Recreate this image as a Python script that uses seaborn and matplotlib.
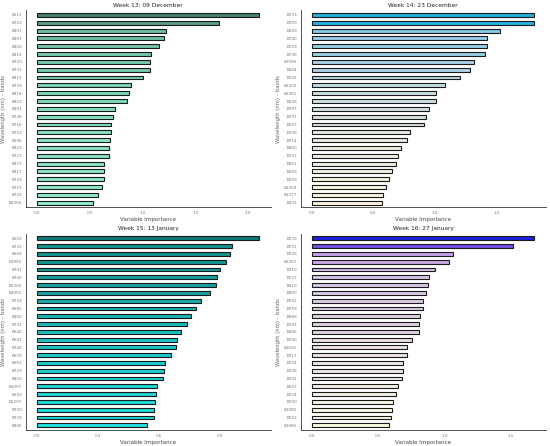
import numpy as np
import matplotlib
matplotlib.use('Agg')
import matplotlib.pyplot as plt
import matplotlib.colors as mcolors
from matplotlib.ticker import MultipleLocator, FormatStrFormatter
import seaborn as sns

# Data: band names (top to bottom) and variable importance per week
titles = ['Week 13: 09 December', 'Week 14: 23 December',
          'Week 15: 13 January', 'Week 16: 27 January']

bands_w13 = ['B515', 'B722', 'B401', 'B497', 'B400', 'B410', 'B720', 'B737', 'B413',
             'B739', 'B418', 'B422', 'B491', 'B738', 'B716', 'B723', 'B506', 'B423',
             'B727', 'B473', 'B417', 'B733', 'B719', 'B732', 'B2304']
imp_w13 = [2.107, 1.72, 1.218, 1.199, 1.151, 1.082, 1.066, 1.066, 1.003,
           0.89, 0.871, 0.852, 0.741, 0.719, 0.703, 0.703, 0.688, 0.678,
           0.678, 0.637, 0.634, 0.631, 0.615, 0.58, 0.533]

bands_w14 = ['B733', 'B709', 'B509', 'B740', 'B729', 'B736', 'B1996', 'B444', 'B742',
             'B2500', 'B2301', 'B526', 'B707', 'B731', 'B507', 'B726', 'B714', 'B400',
             'B737', 'B451', 'B505', 'B739', 'B2269', 'B1377', 'B433']
imp_w14 = [1.81, 1.805, 1.528, 1.425, 1.423, 1.409, 1.32, 1.282, 1.203,
           1.084, 1.011, 1.005, 0.951, 0.924, 0.911, 0.8, 0.775, 0.724,
           0.696, 0.683, 0.65, 0.623, 0.604, 0.577, 0.566]

bands_w15 = ['B502', 'B732', 'B664', 'B1995', 'B741', 'B740', 'B2302', 'B1951', 'B733',
             'B685', 'B400', 'B731', 'B640', 'B641', 'B742', 'B670', 'B661', 'B729',
             'B420', 'B1097', 'B550', 'B2297', 'B720', 'B728', 'B406']
imp_w15 = [1.093, 0.957, 0.946, 0.93, 0.9, 0.884, 0.877, 0.851, 0.804,
           0.781, 0.756, 0.737, 0.709, 0.687, 0.681, 0.656, 0.627, 0.622,
           0.619, 0.592, 0.584, 0.578, 0.573, 0.573, 0.54]

bands_w16 = ['B739', 'B721', 'B725', 'B2267', 'B710', 'B727', 'B510', 'B400', 'B742',
             'B759', 'B666', 'B743', 'B440', 'B740', 'B1692', 'B717', 'B754', 'B726',
             'B741', 'B507', 'B724', 'B730', 'B1085', 'B722', 'B1086']
imp_w16 = [1.676, 1.513, 1.064, 1.034, 0.923, 0.883, 0.873, 0.856, 0.838,
           0.836, 0.813, 0.808, 0.806, 0.75, 0.715, 0.713, 0.685, 0.683,
           0.675, 0.647, 0.635, 0.607, 0.6, 0.592, 0.577]

# low / high colours of each gradient
low_cols = ['aquamarine', 'cornsilk', 'cyan', 'lightyellow']
high_cols = ['#3f8a6e', 'deepskyblue', '#008B8B', 'blue']
tick_steps = [0.5, 0.5, 0.3, 0.5]


# gradient in CIELAB space, like ggplot's scale_fill_gradient
def to_lab(c):
    rgb = np.array(mcolors.to_rgb(c))
    lin = np.where(rgb <= 0.04045, rgb / 12.92, ((rgb + 0.055) / 1.055) ** 2.4)
    m = np.array([[0.4124, 0.3576, 0.1805], [0.2126, 0.7152, 0.0722], [0.0193, 0.1192, 0.9505]])
    xyz = m @ lin / np.array([0.95047, 1.0, 1.08883])
    f = np.where(xyz > 0.008856, np.cbrt(xyz), 7.787 * xyz + 16 / 116)
    return np.array([116 * f[1] - 16, 500 * (f[0] - f[1]), 200 * (f[1] - f[2])])


def from_lab(lab):
    fy = (lab[0] + 16) / 116
    f = np.array([fy + lab[1] / 500, fy, fy - lab[2] / 200])
    xyz = np.where(f ** 3 > 0.008856, f ** 3, (f - 16 / 116) / 7.787) * np.array([0.95047, 1.0, 1.08883])
    m = np.array([[3.2406, -1.5372, -0.4986], [-0.9689, 1.8758, 0.0415], [0.0557, -0.2040, 1.0570]])
    lin = m @ xyz
    rgb = np.where(lin <= 0.0031308, 12.92 * lin, 1.055 * np.abs(lin) ** (1 / 2.4) - 0.055)
    return tuple(np.clip(rgb, 0, 1))


def gradient(vals, low, high):
    vals = np.array(vals)
    t = (vals - vals.min()) / (vals.max() - vals.min())
    a, b = to_lab(low), to_lab(high)
    return [from_lab(a + (b - a) * ti) for ti in t]


sns.set_style('white')
plt.rcParams['font.family'] = ['DejaVu Sans']

fig = plt.figure(figsize=(5.5, 4.46), dpi=100)
positions = [[0.047, 0.535, 0.445, 0.442], [0.547, 0.535, 0.445, 0.442],
             [0.047, 0.036, 0.445, 0.440], [0.547, 0.036, 0.445, 0.440]]

all_bands = [bands_w13, bands_w14, bands_w15, bands_w16]
all_imp = [imp_w13, imp_w14, imp_w15, imp_w16]

for i in range(4):
    ax = fig.add_axes(positions[i])
    bands, imp = all_bands[i], all_imp[i]
    cols = gradient(imp, low_cols[i], high_cols[i])
    sns.barplot(x=imp, y=bands, hue=bands, order=bands, palette=dict(zip(bands, cols)),
                legend=False, width=0.5, edgecolor='#1a1a1a', linewidth=0.8, ax=ax)
    top = max(imp)
    ax.set_xlim(-0.05 * top, 1.05 * top)
    ax.set_ylim(len(bands) - 0.4, -0.6)
    ax.xaxis.set_major_locator(MultipleLocator(tick_steps[i]))
    ax.xaxis.set_major_formatter(FormatStrFormatter('%.1f'))
    ax.set_title(titles[i], fontsize=4.2, pad=2.5, color='#222222')
    ax.set_xlabel('Variable Importance', fontsize=4, labelpad=1.5, color='#444444')
    ax.set_ylabel('Wavelength (nm) \u2013 bands', fontsize=3.8, labelpad=2, color='#666666')
    ax.tick_params(axis='both', labelsize=3, colors='#777777', length=1.5, width=0.4, pad=1.2)
    sns.despine(ax=ax)
    for side in ['left', 'bottom']:
        ax.spines[side].set_linewidth(0.6)
        ax.spines[side].set_color('#333333')

plt.savefig('out.png', dpi=100)
